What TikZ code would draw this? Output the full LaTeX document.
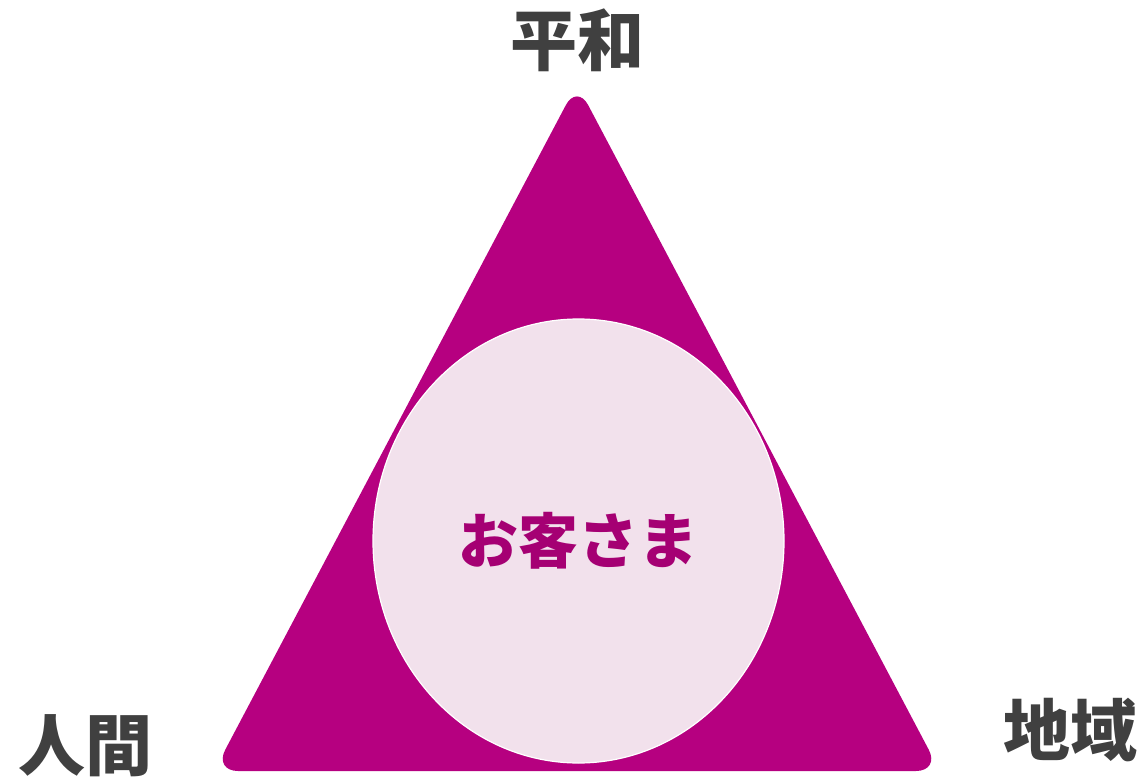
\documentclass[tikz,border=0pt]{standalone}
\usepackage{fontspec}
\newfontfamily\cjk{Noto Sans CJK JP}
\usetikzlibrary{shapes.geometric}
\definecolor{tri}{RGB}{182,0,128}
\definecolor{circfill}{RGB}{242,225,236}
\definecolor{circtext}{RGB}{165,0,115}
\definecolor{labelgray}{RGB}{64,64,64}
\tikzset{
  corner/.style={font=\cjk\bfseries\fontsize{67}{72}\selectfont, text=labelgray, inner sep=0pt},
}
\begin{document}
\begin{tikzpicture}[x=1pt,y=-1pt]
\useasboundingbox (0,0) rectangle (1142,778);
\fill[tri, rounded corners=24pt] (577,84) -- (940,771) -- (214,771) -- cycle;
\node[ellipse, fill=circfill, draw=white, line width=1.2pt, minimum width=411pt, minimum height=444pt, inner sep=0pt,
  font=\cjk\bfseries\fontsize{60}{64}\selectfont, text=circtext] (c) at (578.5,541) {お客さま};
\node[corner] (heiwa) at (577,40) {平和};
\node[corner] (ningen) at (85,746) {人間};
\node[corner] (chiiki) at (1070,730) {地域};
\end{tikzpicture}
\end{document}
